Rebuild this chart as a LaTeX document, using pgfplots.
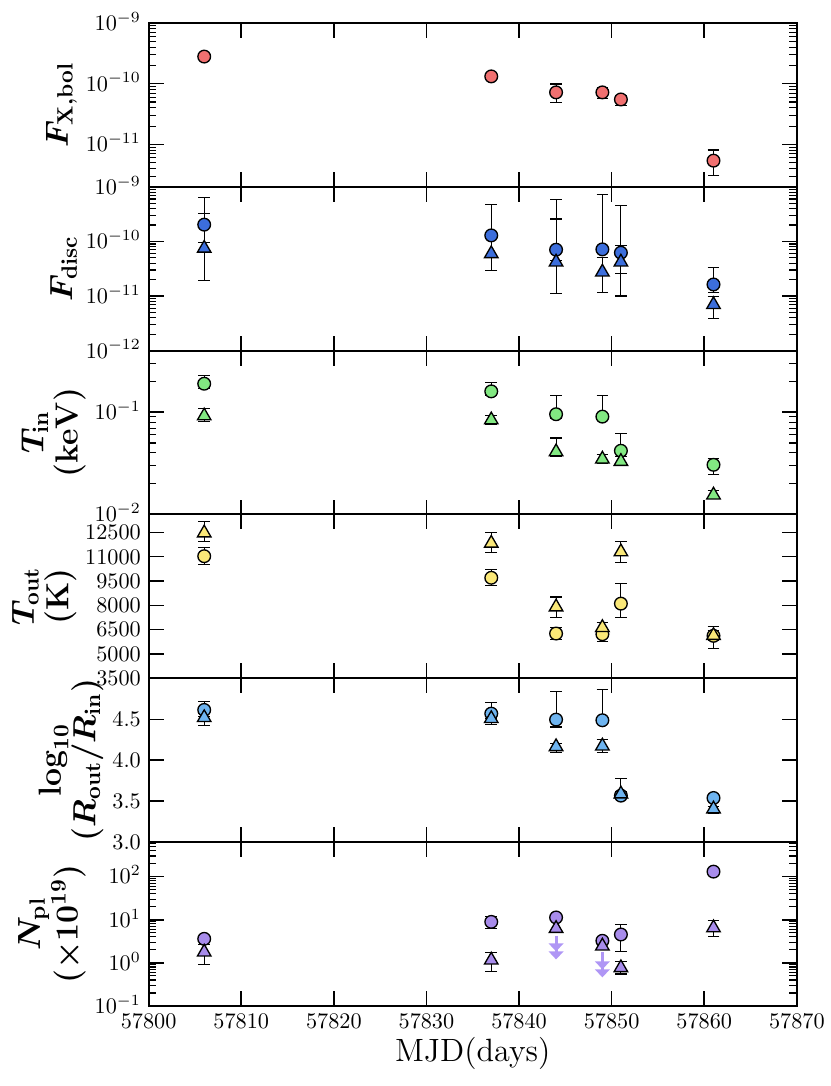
\documentclass[border=0pt]{standalone}
\usepackage{pgfplots}
\usepackage{pgfplotstable}
\pgfplotsset{compat=1.18}
\usepgfplotslibrary{groupplots}
\usetikzlibrary{arrows.meta}
\definecolor{cred}{RGB}{240,112,112}
\definecolor{cblue}{RGB}{60,110,220}
\definecolor{cgreen}{RGB}{130,232,130}
\definecolor{cyellow}{RGB}{250,232,120}
\definecolor{clblue}{RGB}{110,180,240}
\definecolor{cpurple}{RGB}{168,140,235}
\definecolor{carrow}{RGB}{175,150,245}

\pgfplotstableread{
x y ep em
57806 2.8e-10 0 0
57837 1.32e-10 0 0
57844 7.2e-11 2.7e-11 2.3e-11
57849 7.2e-11 1.3e-11 1.5e-11
57851 5.5e-11 0.8e-11 1.1e-11
57861 5.4e-12 2.7e-12 2.3e-12
}\Pac

\pgfplotstableread{
x y ep em
57806 2.03e-10 1.17e-10 1.08e-10
57837 1.29e-10 3.38e-10 0
57844 7.06e-11 1.87e-10 2.5e-11
57849 7.16e-11 6.61e-10 0
57851 6.22e-11 2.25e-11 3.66e-11
57861 1.63e-11 1.67e-11 4.8e-12
}\Pbc
\pgfplotstableread{
x y ep em
57806 7.5e-11 5.75e-10 5.6e-11
57837 5.96e-11 6.9e-11 3.06e-11
57844 4.19e-11 5.43e-10 3.06e-11
57849 2.75e-11 2.29e-11 1.59e-11
57851 4.19e-11 4.06e-10 3.19e-11
57861 6.98e-12 3.0e-12 3.06e-12
}\Pbt

\pgfplotstableread{
x y ep em
57806 0.190 0.0375 0.02
57837 0.160 0.037 0.015
57844 0.0956 0.0493 0.008
57849 0.0906 0.0543 0.008
57851 0.0420 0.0196 0.0054
57861 0.0306 0.0050 0.0062
}\Pcc
\pgfplotstableread{
x y ep em
57806 0.0920 0.0167 0.0104
57837 0.0841 0.0093 0.0079
57844 0.0410 0.0150 0.004
57849 0.0348 0.0036 0.003
57851 0.0330 0.0036 0.0031
57861 0.0155 0.0015 0.001
}\Pct

\pgfplotstableread{
x y ep em
57806 11029 553 511
57837 9699 491 491
57844 6262 368 368
57849 6221 150 429
57851 8104 1227 839
57861 6119 593 778
}\Pdc
\pgfplotstableread{
x y ep em
57806 12462 716 512
57837 11827 655 593
57844 7899 614 634
57849 6630 287 300
57851 11295 614 654
57861 6139 300 300
}\Pdt

\pgfplotstableread{
x y ep em
57806 4.614 0.098 0.08
57837 4.569 0.131 0.06
57844 4.496 0.339 0.09
57849 4.488 0.371 0.03
57851 3.568 0.208 0.03
57861 3.539 0.04 0.04
}\Pec
\pgfplotstableread{
x y ep em
57806 4.52 0.05 0.10
57837 4.508 0.04 0.074
57844 4.165 0.04 0.066
57849 4.173 0.082 0.074
57851 3.588 0.03 0.03
57861 3.405 0.032 0.058
}\Pet

\pgfplotstableread{
x y ep em
57806 3.61 0.4 0.9
57837 8.93 2.75 2.66
57844 11.3 1.0 1.0
57849 3.25 0.3 0.3
57851 4.55 3.34 2.74
57861 130.6 8 8
}\Pfc
\pgfplotstableread{
x y ep em
57806 1.78 0.84 0.85
57837 1.16 0.55 0.515
57851 0.771 0.31 0.22
57861 6.50 2.94 2.33
}\Pft
\pgfplotstableread{
x y
57844 6.27
57849 2.45
}\Pful

\pgfplotsset{
  errs/.style={error bars/y dir=both, error bars/y explicit,
    error bars/error bar style={black, line width=0.5pt},
    error bars/error mark options={rotate=90, black, mark size=2.6pt, line width=0.5pt}},
  circ/.style={black, only marks, mark=*, mark size=2.85pt,
    mark options={draw=black, line width=0.6pt, fill=#1}, errs},
  tri/.style={black, only marks, mark=triangle*, mark size=3.5pt,
    mark options={draw=black, line width=0.6pt, fill=#1}, errs},
}

\begin{document}
\begin{tikzpicture}
\begin{groupplot}[
  group style={group size=1 by 6, vertical sep=0pt, x descriptions at=edge bottom},
  width=291.6pt, height=73.7pt, scale only axis,
  xmin=57800, xmax=57870, xtick={57800,57810,...,57870},
  scaled x ticks=false, scaled y ticks=false,
  /pgf/number format/1000 sep={},
  tick align=inside, xtick pos=both, ytick pos=both,
  major tick length=6.75pt, minor tick length=3.4pt,
  major tick style={line width=0.7pt, black},
  minor tick style={line width=0.5pt, black},
  axis line style={line width=0.9pt},
  tick label style={font=\fontsize{10}{12}\selectfont, inner sep=0.5pt},
  yticklabel style={anchor=base east, xshift=-2.83pt, yshift=-3.3pt},
  xticklabel style={yshift=-2.83pt},
  ylabel style={font=\fontsize{14}{15.5}\selectfont\boldmath, align=center},
  xlabel style={font=\fontsize{14.5}{17}\selectfont},
  clip=false,
]
% Panel 1
\nextgroupplot[ymode=log, ymin=2e-12, ymax=1e-9,
  ytick={1e-11,1e-10,1e-9},
  minor ytick={2e-12,3e-12,4e-12,5e-12,6e-12,7e-12,8e-12,9e-12,2e-11,3e-11,4e-11,5e-11,6e-11,7e-11,8e-11,9e-11,2e-10,3e-10,4e-10,5e-10,6e-10,7e-10,8e-10,9e-10},
  ylabel={$F_{\mathbf{X,bol}}$}]
\addplot[circ=cred] table[x=x,y=y,y error plus=ep,y error minus=em]{\Pac};
% Panel 2
\nextgroupplot[ymode=log, ymin=1e-12, ymax=1e-9,
  ytick={1e-12,1e-11,1e-10,1e-9},
  minor ytick={2e-12,3e-12,4e-12,5e-12,6e-12,7e-12,8e-12,9e-12,2e-11,3e-11,4e-11,5e-11,6e-11,7e-11,8e-11,9e-11,2e-10,3e-10,4e-10,5e-10,6e-10,7e-10,8e-10,9e-10},
  ylabel={$F_{\mathbf{disc}}$}]
\addplot[circ=cblue] table[x=x,y=y,y error plus=ep,y error minus=em]{\Pbc};
\addplot[tri=cblue] table[x=x,y=y,y error plus=ep,y error minus=em]{\Pbt};
% Panel 3
\nextgroupplot[ymode=log, ymin=0.01, ymax=0.4,
  ytick={0.01,0.1},
  minor ytick={0.02,0.03,0.04,0.05,0.06,0.07,0.08,0.09,0.2,0.3,0.4},
  ylabel={$T_{\mathbf{in}}$\\$(\mathbf{keV})$}]
\addplot[circ=cgreen] table[x=x,y=y,y error plus=ep,y error minus=em]{\Pcc};
\addplot[tri=cgreen] table[x=x,y=y,y error plus=ep,y error minus=em]{\Pct};
% Panel 4
\nextgroupplot[ymin=3500, ymax=13600,
  ytick={3500,5000,6500,8000,9500,11000,12500},
  ylabel={$T_{\mathbf{out}}$\\$(\mathbf{K})$}]
\addplot[circ=cyellow] table[x=x,y=y,y error plus=ep,y error minus=em]{\Pdc};
\addplot[tri=cyellow] table[x=x,y=y,y error plus=ep,y error minus=em]{\Pdt};
% Panel 5
\nextgroupplot[ymin=3, ymax=5,
  ytick={3,3.5,4,4.5},
  yticklabel style={/pgf/number format/.cd, fixed, fixed zerofill, precision=1},
  ylabel={$\mathbf{log}_{\mathbf{10}}$\\$(R_{\mathbf{out}}/R_{\mathbf{in}})$}]
\addplot[circ=clblue] table[x=x,y=y,y error plus=ep,y error minus=em]{\Pec};
\addplot[tri=clblue] table[x=x,y=y,y error plus=ep,y error minus=em]{\Pet};
% Panel 6
\nextgroupplot[ymode=log, ymin=0.1, ymax=630,
  ytick={0.1,1,10,100},
  minor ytick={0.2,0.3,0.4,0.5,0.6,0.7,0.8,0.9,2,3,4,5,6,7,8,9,20,30,40,50,60,70,80,90,200,300,400,500,600},
  ylabel={$N_{\mathbf{pl}}$\\$(\times\mathbf{10}^{\mathbf{19}})$},
  xlabel={MJD(days)}]
\addplot[circ=cpurple] table[x=x,y=y,y error plus=ep,y error minus=em]{\Pfc};
\addplot[carrow, line width=1.3pt, -{Triangle[width=6.5pt,length=3.6pt] Triangle[width=6.5pt,length=3.6pt]}] coordinates {(57844,4.3) (57844,1.2)};
\addplot[carrow, line width=1.3pt, -{Triangle[width=6.5pt,length=3.6pt] Triangle[width=6.5pt,length=3.6pt]}] coordinates {(57849,1.75) (57849,0.46)};
\addplot[black, only marks, mark=triangle*, mark size=3.5pt, mark options={draw=black, line width=0.6pt, fill=cpurple}] table[x=x,y=y]{\Pful};
\addplot[tri=cpurple] table[x=x,y=y,y error plus=ep,y error minus=em]{\Pft};
\end{groupplot}
\pgfresetboundingbox
\path ([xshift=-66.87pt,yshift=10.35pt]group c1r1.north west) rectangle ([xshift=15pt,yshift=-36pt]group c1r6.south east);
\end{tikzpicture}
\end{document}
